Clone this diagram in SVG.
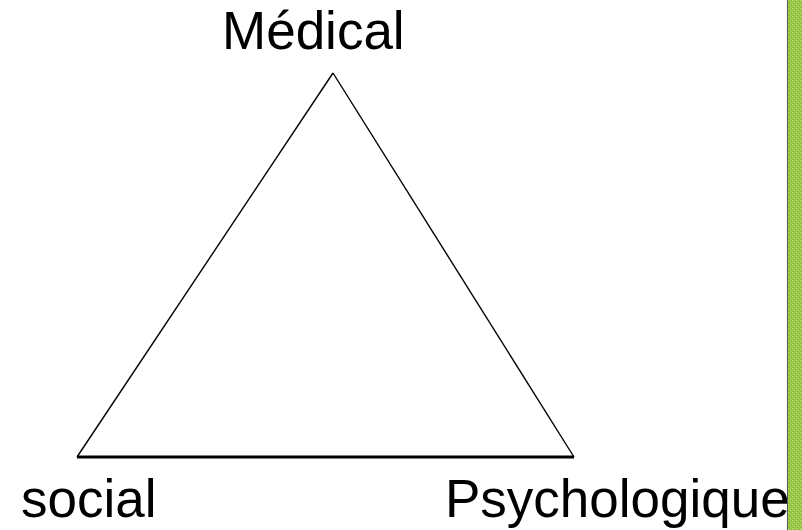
<svg xmlns="http://www.w3.org/2000/svg" width="802" height="530" viewBox="0 0 802 530">
<style>
.lbl{font-family:"Liberation Sans",Arial,sans-serif;font-size:53px;fill:#000}
.edge{stroke:#000;stroke-width:1.4;fill:none}
.base{stroke:#000;stroke-width:2.8;fill:none}
</style>
<defs>
<pattern id="tex" width="4" height="4" patternUnits="userSpaceOnUse">
<rect width="4" height="4" fill="#9cc84a"/>
<rect x="0" y="0" width="1" height="1" fill="#b8dc78"/>
<rect x="2" y="2" width="1" height="1" fill="#b8dc78"/>
<rect x="1" y="3" width="1" height="1" fill="#88b43a"/>
<rect x="3" y="1" width="1" height="1" fill="#88b43a"/>
</pattern>
</defs>
<rect width="802" height="530" fill="#fff"/>
<g id="connectors">
<line class="edge" x1="333" y1="73" x2="77" y2="457"/>
<line class="edge" x1="333" y1="73" x2="574" y2="457"/>
<line class="base" x1="77" y1="457" x2="574" y2="457"/>
</g>
<g id="node-medical"><text class="lbl" x="222" y="49">Médical</text></g>
<g id="node-social"><text class="lbl" x="21" y="517">social</text></g>
<g id="node-psychologique"><text class="lbl" x="445" y="517">Psychologique</text></g>
<g id="sidebar">
<rect x="788" y="0" width="14" height="530" fill="url(#tex)"/>
<line x1="787.5" y1="0" x2="787.5" y2="530" stroke="#555" stroke-width="1"/>
</g>
</svg>
